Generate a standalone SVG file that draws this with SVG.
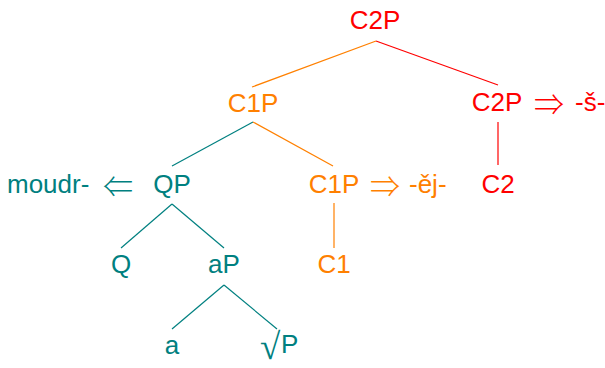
<svg xmlns="http://www.w3.org/2000/svg" width="605" height="368" viewBox="0 0 605 368">
<style>
text{font-family:"Liberation Sans","DejaVu Sans",sans-serif;font-size:26px}
.m{text-anchor:middle}
.arr{font-family:"Noto Sans CJK JP","DejaVu Sans",sans-serif;font-size:30px;font-weight:300}
.sq{font-family:"Liberation Serif","DejaVu Serif",serif;font-size:37px}
.red{fill:#ff0000}.org{fill:#ff8000}.teal{fill:#008080}
line{stroke-width:1.2}
.lr{stroke:#ff0000}.lo{stroke:#ff8000}.lt{stroke:#008080}
</style>
<rect width="605" height="368" fill="#ffffff"/>
<g id="connectors">
<line class="lo" x1="376" y1="41" x2="252" y2="87"/>
<line class="lr" x1="376" y1="41" x2="498" y2="85"/>
<line class="lr" x1="498" y1="122" x2="498" y2="165"/>
<line class="lt" x1="253" y1="122" x2="172" y2="166"/>
<line class="lo" x1="253" y1="122" x2="333" y2="166"/>
<line class="lo" x1="334" y1="203" x2="334" y2="248"/>
<line class="lt" x1="172" y1="204" x2="121" y2="248"/>
<line class="lt" x1="172" y1="204" x2="224" y2="248"/>
<line class="lt" x1="224" y1="285" x2="172" y2="329"/>
<line class="lt" x1="224" y1="285" x2="277" y2="329"/>
</g>
<g id="C2P-top"><text class="m red" x="375" y="29">C2P</text></g>
<g id="C2P-right"><text class="m red" x="497" y="111">C2P</text><text class="m red arr" x="549" y="115">⇒</text><text class="red" x="575" y="111">-š-</text></g>
<g id="C2"><text class="m red" x="498" y="193">C2</text></g>
<g id="C1P-left"><text class="m org" x="253" y="112">C1P</text></g>
<g id="C1P-mid"><text class="m org" x="334" y="193">C1P</text><text class="m org arr" x="385" y="197">⇒</text><text class="org" x="409" y="193">-ěj-</text></g>
<g id="C1"><text class="m org" x="334" y="273">C1</text></g>
<g id="QP"><text class="teal" x="7" y="193">moudr-</text><text class="m teal arr" x="118" y="197">⇐</text><text class="m teal" x="172" y="193">QP</text></g>
<g id="Q"><text class="m teal" x="121" y="273">Q</text></g>
<g id="aP"><text class="m teal" x="224" y="273">aP</text></g>
<g id="a"><text class="m teal" x="172" y="354">a</text></g>
<g id="rootP"><text class="teal sq" x="260" y="359">√</text><text class="teal" x="281" y="353">P</text></g>
</svg>
